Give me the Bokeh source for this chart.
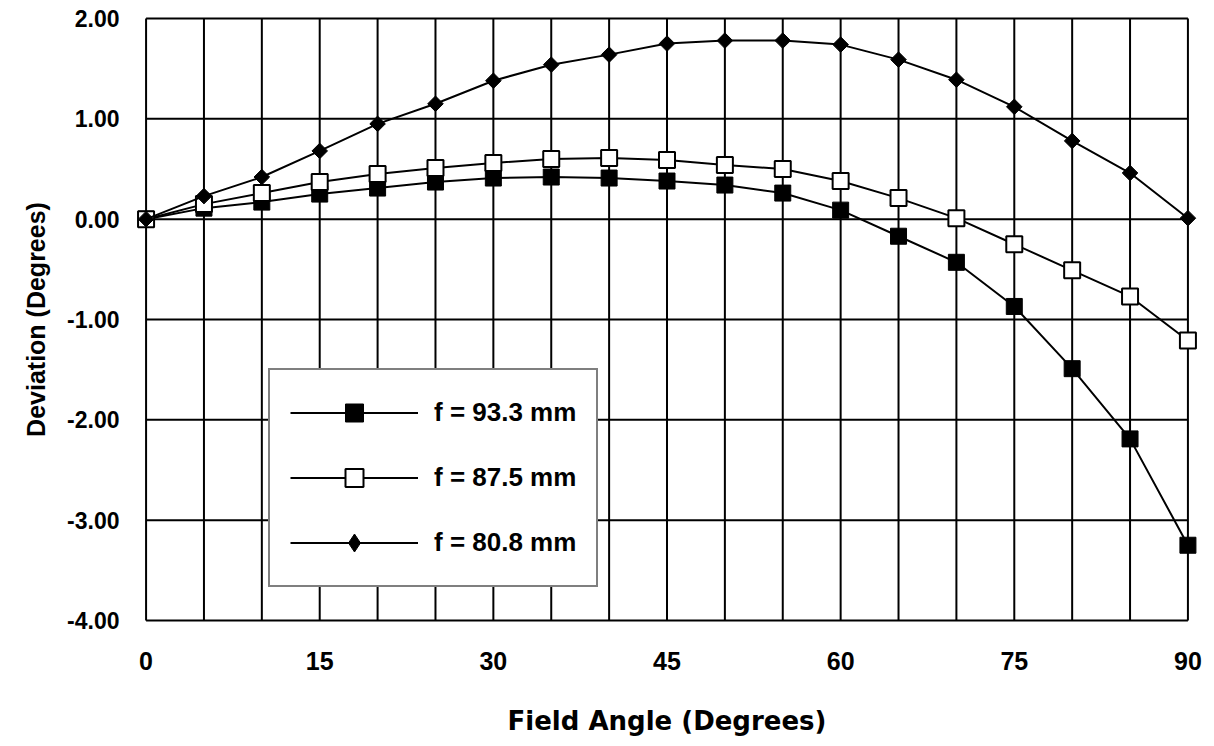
import numpy as np
from bokeh.plotting import figure
from bokeh.models import FixedTicker, PrintfTickFormatter, Legend, LegendItem, ColumnDataSource
from bokeh.embed import file_html
from bokeh.resources import INLINE

# ---- data ----
angles = [0, 5, 10, 15, 20, 25, 30, 35, 40, 45, 50, 55, 60, 65, 70, 75, 80, 85, 90]
f933 = [0.00, 0.11, 0.17, 0.25, 0.31, 0.37, 0.41, 0.42, 0.41, 0.38, 0.34, 0.26, 0.09,
        -0.17, -0.43, -0.87, -1.49, -2.19, -3.25]
f875 = [0.00, 0.15, 0.26, 0.37, 0.45, 0.51, 0.56, 0.60, 0.61, 0.59, 0.54, 0.50, 0.38,
        0.21, 0.01, -0.25, -0.51, -0.77, -1.21]
f808 = [0.00, 0.23, 0.42, 0.68, 0.95, 1.15, 1.38, 1.54, 1.64, 1.75, 1.78, 1.78, 1.74,
        1.59, 1.39, 1.12, 0.78, 0.46, 0.01]
labels = ["f = 93.3 mm", "f = 87.5 mm", "f = 80.8 mm"]
x_label_ticks = [0, 15, 30, 45, 60, 75, 90]
x_grid = list(range(0, 95, 5))
y_ticks = [-4, -3, -2, -1, 0, 1, 2]
x_title = "Field Angle (Degrees)"
y_title = "Deviation (Degrees)"

FONT = "Liberation Sans"

p = figure(width=1206, height=738, output_backend="svg", toolbar_location=None,
           x_range=(-1.0, 91.0), y_range=(-4.03, 2.03),
           min_border_left=134, min_border_right=7, min_border_top=15, min_border_bottom=108)
p.outline_line_color = None
p.xgrid.visible = False
p.ygrid.visible = False
p.background_fill_color = "white"
p.border_fill_color = "white"

# grid lines (from tick arrays), bounded to the data frame 0..90, -4..2
gx = np.array(x_grid, dtype=float)
p.segment(x0=gx, y0=np.full(len(gx), float(y_ticks[0])), x1=gx, y1=np.full(len(gx), float(y_ticks[-1])),
          line_color="black", line_width=2)
gy = np.array(y_ticks, dtype=float)
p.segment(x0=np.full(len(gy), float(x_grid[0])), y0=gy, x1=np.full(len(gy), float(x_grid[-1])), y1=gy,
          line_color="black", line_width=2)

src = ColumnDataSource(dict(x=angles, a=f933, b=f875, c=f808))

l1 = p.line("x", "a", source=src, line_color="black", line_width=2)
m1 = p.scatter("x", "a", source=src, marker="square", size=16, fill_color="black", line_color="black")
l2 = p.line("x", "b", source=src, line_color="black", line_width=2)
m2 = p.scatter("x", "b", source=src, marker="square", size=16, fill_color="white", line_color="black",
               line_width=2)
l3 = p.line("x", "c", source=src, line_color="black", line_width=2)
m3 = p.scatter("x", "c", source=src, marker="square", size=11, angle=np.pi / 4,
               fill_color="black", line_color="black")
# legend-only proxy for the diamond symbol (legend glyphs ignore marker angle); not drawn in the plot
proxy = p.scatter(x=[np.nan], y=[np.nan], marker="diamond", size=18, fill_color="black", line_color="black")

legend = Legend(items=[LegendItem(label=labels[0], renderers=[l1, m1]),
                       LegendItem(label=labels[1], renderers=[l2, m2]),
                       LegendItem(label=labels[2], renderers=[l3, proxy])],
                location=(134, 36))
legend.glyph_width = 128
legend.glyph_height = 45
legend.label_height = 45
legend.spacing = 20
legend.padding = 20
legend.margin = 0
legend.label_standoff = 16
legend.label_text_font = FONT
legend.label_text_font_style = "bold"
legend.label_text_font_size = "26px"
legend.label_text_color = "black"
legend.border_line_color = "black"
legend.border_line_width = 2
legend.background_fill_alpha = 1.0
legend.background_fill_color = "white"
p.add_layout(legend, "center")

# axes
p.xaxis.ticker = FixedTicker(ticks=x_label_ticks)
p.yaxis.ticker = FixedTicker(ticks=y_ticks)
p.yaxis.formatter = PrintfTickFormatter(format="%.2f")
for ax in (p.xaxis, p.yaxis):
    ax.axis_line_color = None
    ax.major_tick_line_color = None
    ax.minor_tick_line_color = None
    ax.major_label_text_font = FONT
    ax.major_label_text_font_style = "bold"
    ax.major_label_text_color = "black"
    ax.axis_label_text_font_style = "bold"
    ax.axis_label_text_color = "black"

p.xaxis.major_label_text_font_size = "25px"
p.yaxis.major_label_text_font_size = "23px"
p.xaxis.major_label_standoff = 22
p.yaxis.major_label_standoff = 9
p.xaxis.axis_label = x_title
p.xaxis.axis_label_text_font = "DejaVu Sans"
p.xaxis.axis_label_text_font_size = "26px"
p.xaxis.axis_label_standoff = 33
p.yaxis.axis_label = y_title
p.yaxis.axis_label_text_font = FONT
p.yaxis.axis_label_text_font_size = "25px"
p.yaxis.axis_label_standoff = 14

open("out.html", "w").write(file_html(p, INLINE))
